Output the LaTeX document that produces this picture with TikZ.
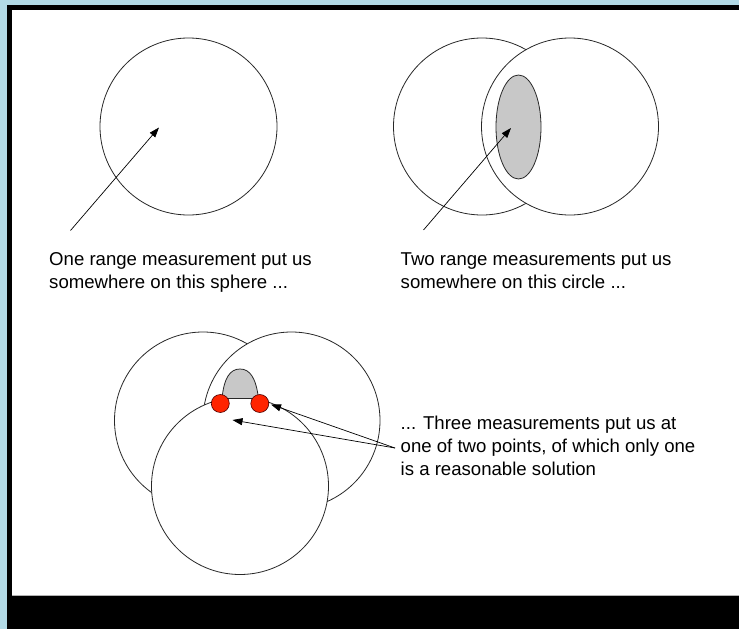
\documentclass[tikz,border=0pt]{standalone}
\usepackage{fontspec}
\setmainfont{Liberation Sans}
\usetikzlibrary{arrows.meta,shapes.geometric}
\definecolor{bgblue}{RGB}{178,218,230}
\definecolor{lineclr}{RGB}{40,40,40}
\definecolor{domegray}{RGB}{200,200,200}
\definecolor{dotred}{RGB}{255,36,0}
\tikzset{
  ring/.style={circle, draw=lineclr, line width=0.8pt, minimum size=177pt, inner sep=0pt},
  wring/.style={ring, fill=white},
  ptr/.style={draw=black, line width=0.7pt, -{Triangle[length=10pt,width=7pt]}},
  caption/.style={anchor=base west, align=left, inner sep=0pt, font=\fontsize{18.6}{23}\selectfont, text=black},
  reddot/.style={circle, fill=dotred, draw=black!70!red, line width=0.6pt, minimum size=18pt, inner sep=0pt},
}
\begin{document}
\begin{tikzpicture}[x=1pt,y=-1pt]
\useasboundingbox (0,0) rectangle (739,629);
% frame
\fill[bgblue] (0,0) rectangle (739,629);
\fill[black] (7,5) rectangle (739,629);
\fill[white] (12,10) rectangle (739,595);
\draw[gray!60, line width=0.8pt] (12,595.4) -- (739,595.4);
% panel 1
\node[ring] (c1) at (188.5,126.5) {};
\coordinate (t1) at (70.5,230.5);
\coordinate (h1) at (159,127.5);
\draw[ptr] (t1) -- (h1);
\node[caption] (txt1) at (49,288.5) {One range measurement put us\\somewhere on this sphere ...};
% panel 2
\node[ring] (c2a) at (482,126.5) {};
\node[wring] (c2b) at (570,126.5) {};
\node[ellipse, draw=lineclr, fill=domegray, line width=0.8pt, minimum width=45pt, minimum height=104pt, inner sep=0pt] (el) at (518.5,127) {};
\coordinate (t2) at (423.5,230);
\coordinate (h2) at (511,128);
\draw[ptr] (t2) -- (h2);
\node[caption] (txt2) at (400.5,288.5) {Two range measurements put us\\somewhere on this circle ...};
% panel 3
\node[ring] (c3a) at (203,420.5) {};
\node[wring] (c3b) at (291.5,420.5) {};
\node[wring] (c3c) at (240,486) {};
\path[draw=lineclr, fill=domegray, line width=0.8pt] (222,398.5) .. controls (224,378) and (230,369) .. (240,369) .. controls (250,369) and (256,378) .. (258.5,398.5) -- cycle;
\node[reddot] (p1) at (220.3,403.5) {};
\node[reddot] (p2) at (259.8,403.5) {};
\coordinate (t3) at (395,448);
\coordinate (h3a) at (271,404.5);
\coordinate (h3b) at (232.5,420);
\draw[ptr] (t3) -- (h3a);
\draw[ptr] (t3) -- (h3b);
\node[caption] (txt3) at (400.5,475) {... Three measurements put us at\\one of two points, of which only one\\is a reasonable solution};
\end{tikzpicture}
\end{document}
